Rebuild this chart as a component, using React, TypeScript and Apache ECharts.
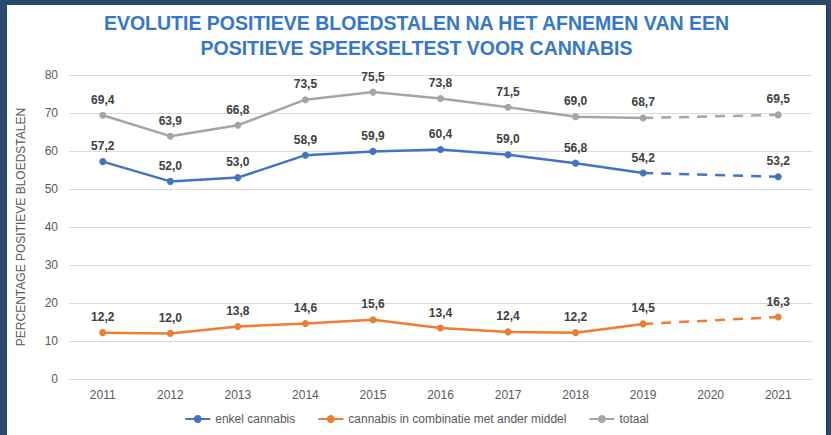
import React, { useEffect, useRef } from "react";
import * as echarts from "echarts";

const years = ["2011", "2012", "2013", "2014", "2015", "2016", "2017", "2018", "2019", "2020", "2021"];
const enkel: (number | null)[] = [57.2, 52.0, 53.0, 58.9, 59.9, 60.4, 59.0, 56.8, 54.2, null, 53.2];
const combinatie: (number | null)[] = [12.2, 12.0, 13.8, 14.6, 15.6, 13.4, 12.4, 12.2, 14.5, null, 16.3];
const totaal: (number | null)[] = [69.4, 63.9, 66.8, 73.5, 75.5, 73.8, 71.5, 69.0, 68.7, null, 69.5];
const seriesNames = ["enkel cannabis", "cannabis in combinatie met ander middel", "totaal"];
const colors = ["#4472c4", "#ed7d31", "#a5a5a5"];

const FONT = "'Liberation Sans', Arial, sans-serif";

function dashedPart(values: (number | null)[]) {
  // keep only 2019 and 2021 to draw the dashed gap bridge
  return values.map((v, i) => (years[i] === "2019" || years[i] === "2021" ? v : null));
}

export default function App() {
  const ref = useRef<HTMLDivElement>(null);
  useEffect(() => {
    document.body.style.margin = "0";
    if (!ref.current) return;
    const chart = echarts.init(ref.current, undefined, { renderer: "svg" });
    const all = [enkel, combinatie, totaal];
    const main = all.map((vals, k) => ({
      name: seriesNames[k],
      type: "line",
      data: vals,
      connectNulls: false,
      symbol: "circle",
      symbolSize: 7,
      z: 3,
      lineStyle: { color: colors[k], width: 2.5 },
      itemStyle: { color: colors[k] },
      label: {
        show: true,
        position: "top",
        distance: 6,
        color: "#404040",
        fontWeight: "bold",
        fontSize: 12,
        fontFamily: FONT,
        formatter: (p: any) => (p.value == null ? "" : Number(p.value).toFixed(1).replace(".", ",")),
      },
    }));
    const dashed = all.map((vals, k) => ({
      name: seriesNames[k] + " (geschat)",
      type: "line",
      data: dashedPart(vals),
      connectNulls: true,
      symbol: "none",
      z: 2,
      lineStyle: { color: colors[k], width: 2.5, type: [10, 8] },
      label: { show: false },
      emphasis: { disabled: true },
    }));
    chart.setOption({
      animation: false,
      textStyle: { fontFamily: FONT },
      title: {
        text: "EVOLUTIE POSITIEVE BLOEDSTALEN NA HET AFNEMEN VAN EEN\nPOSITIEVE SPEEKSELTEST VOOR CANNABIS",
        left: "center",
        top: 0,
        textStyle: {
          color: "#3478c6",
          fontSize: 19.5,
          fontWeight: "bold",
          lineHeight: 25,
          fontFamily: FONT,
          align: "center",
        },
      },
      legend: {
        data: seriesNames,
        top: 403,
        left: "center",
        itemWidth: 25,
        itemHeight: 10,
        itemGap: 22,
        textStyle: { color: "#595959", fontSize: 12, fontFamily: FONT },
      },
      grid: { left: 58, right: 14, top: 70, bottom: 56, containLabel: false },
      xAxis: {
        type: "category",
        data: years,
        boundaryGap: true,
        axisLine: { show: true, lineStyle: { color: "#d9d9d9", width: 1 } },
        axisTick: { show: false },
        axisLabel: { color: "#595959", fontSize: 12, margin: 10, fontFamily: FONT },
      },
      yAxis: {
        type: "value",
        min: 0,
        max: 80,
        interval: 10,
        name: "PERCENTAGE POSITIEVE BLOEDSTALEN",
        nameLocation: "middle",
        nameGap: 42,
        nameTextStyle: { color: "#595959", fontSize: 12, fontFamily: FONT },
        axisLine: { show: false },
        axisTick: { show: false },
        axisLabel: { color: "#595959", fontSize: 12, margin: 11, fontFamily: FONT },
        splitLine: { lineStyle: { color: "#d9d9d9", width: 1 } },
      },
      series: [...dashed, ...main],
    });
    return () => chart.dispose();
  }, []);
  return (
    <div style={{ width: 831, height: 435, background: "#2a4a70", position: "relative", overflow: "hidden" }}>
      <div
        style={{
          position: "absolute",
          left: 7,
          top: 5,
          width: 819,
          height: 430,
          background: "#ffffff",
          boxShadow: "1px 1px 2px rgba(0,0,0,0.35)",
        }}
      >
        <div ref={ref} style={{ width: 819, height: 430 }} />
      </div>
    </div>
  );
}
